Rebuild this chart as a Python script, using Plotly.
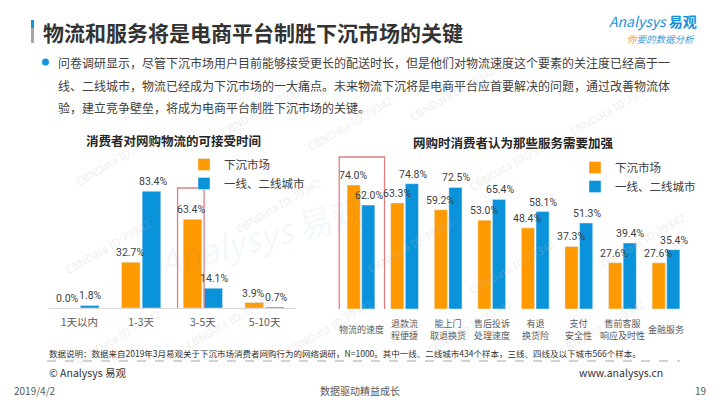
import plotly.graph_objects as go

W, H = 720, 405

# ---------------- data ----------------
left_title = "消费者对网购物流的可接受时间"
left_categories = ["1天以内", "1-3天", "3-5天", "5-10天"]
left_lower_tier = [0.0, 32.7, 63.4, 3.9]
left_top_tier = [1.8, 83.4, 14.1, 0.7]

right_title = "网购时消费者认为那些服务需要加强"
right_categories = ["物流的速度", "退款流<br>程便捷", "能上门<br>取退换货", "售后投诉<br>处理速度",
                    "有退<br>换货险", "支付<br>安全性", "售前客服<br>响应及时性", "金融服务"]
right_lower_tier = [74.0, 63.3, 59.2, 53.0, 48.4, 37.3, 27.6, 27.6]
right_top_tier = [62.0, 74.8, 72.5, 65.4, 58.1, 51.3, 39.4, 35.4]

series_names = ["下沉市场", "一线、二线城市"]

page_title = "物流和服务将是电商平台制胜下沉市场的关键"
bullet_lines = [
    "问卷调研显示，尽管下沉市场用户目前能够接受更长的配送时长，但是他们对物流速度这个要素的关注度已经高于一",
    "线、二线城市，物流已经成为下沉市场的一大痛点。未来物流下沉将是电商平台应首要解决的问题，通过改善物流体",
    "验，建立竞争壁垒，将成为电商平台制胜下沉市场的关键。",
]
footnote = ("数据说明：数据来自2019年3月易观关于下沉市场消费者网购行为的网络调研，N=1000。"
            "其中一线、二线城市434个样本，三线、四线及以下城市566个样本。")

ORANGE = "#FF9900"
BLUE = "#0A93DB"
FONT = "Noto Sans CJK SC"
TXT = "#404040"


def px(x):
    return x / W


def py(y):
    return 1 - y / H


fig = go.Figure()


def bar(x, y, name, color, xa, ya, lg):
    return go.Bar(x=x, y=y, name=name, marker_color=color, xaxis=xa, yaxis=ya, legend=lg,
                  textposition="none", cliponaxis=False)


fig.add_trace(bar(left_categories, left_lower_tier, series_names[0], ORANGE, "x", "y", "legend"))
fig.add_trace(bar(left_categories, left_top_tier, series_names[1], BLUE, "x", "y", "legend"))
fig.add_trace(bar(right_categories, right_lower_tier, series_names[0], ORANGE, "x2", "y2", "legend2"))
fig.add_trace(bar(right_categories, right_top_tier, series_names[1], BLUE, "x2", "y2", "legend2"))

annotations = []
label_font = dict(family="Roboto", size=10.5, color=TXT)

# value labels, drawn on top of all bars (shift = half pair offset of each group bar)
for cats, vals_a, vals_b, xa, ya, shift in [
        (left_categories, left_lower_tier, left_top_tier, "x", "y", 11.5),
        (right_categories, right_lower_tier, right_top_tier, "x2", "y2", 8)]:
    for c, a, b in zip(cats, vals_a, vals_b):
        annotations.append(dict(x=c, y=a, xref=xa, yref=ya, text=f"{a:.1f}%", showarrow=False,
                                xanchor="center", yanchor="bottom", xshift=-shift, yshift=1,
                                font=label_font))
        annotations.append(dict(x=c, y=b, xref=xa, yref=ya, text=f"{b:.1f}%", showarrow=False,
                                xanchor="center", yanchor="bottom", xshift=shift, yshift=1,
                                font=label_font))

# right chart category labels (centred vertically)
for c in right_categories:
    annotations.append(dict(x=c, xref="x2", y=py(329), yref="paper", text=c, showarrow=False,
                            xanchor="center", yanchor="middle", borderpad=0,
                            font=dict(family=FONT, size=9, color="#595959")))

# titles
annotations.append(dict(x=px(41), y=py(32), xref="paper", yref="paper", text="<b>" + page_title + "</b>",
                        showarrow=False, xanchor="left", yanchor="middle",
                        font=dict(family=FONT, size=21, color="#333333")))
for i, line in enumerate(bullet_lines):
    annotations.append(dict(x=px(56), y=py(62 + 23 * i), xref="paper", yref="paper", text=line,
                            showarrow=False, xanchor="left", yanchor="middle",
                            font=dict(family=FONT, size=12, color=TXT)))
annotations.append(dict(x=px(173), y=py(141), xref="paper", yref="paper", text="<b>" + left_title + "</b>",
                        showarrow=False, xanchor="center", yanchor="middle",
                        font=dict(family=FONT, size=12.5, color="#262626")))
annotations.append(dict(x=px(513), y=py(142), xref="paper", yref="paper", text="<b>" + right_title + "</b>",
                        showarrow=False, xanchor="center", yanchor="middle",
                        font=dict(family=FONT, size=12.5, color="#262626")))
# logo
annotations.append(dict(x=px(699), y=py(21), xref="paper", yref="paper",
                        text="<i>Analysys</i> <b>易观</b>", showarrow=False, xanchor="right",
                        yanchor="middle", font=dict(family=FONT, size=14, color="#1890D8")))
annotations.append(dict(x=px(697), y=py(39), xref="paper", yref="paper",
                        text="<i><span style='color:#F39A1E'>你</span>要的数据分析</i>", showarrow=False,
                        xanchor="right", yanchor="middle",
                        font=dict(family=FONT, size=9.5, color="#3A9AD9")))
# footnote / footer
annotations.append(dict(x=px(47), y=py(353), xref="paper", yref="paper", text=footnote,
                        showarrow=False, xanchor="left", yanchor="middle",
                        font=dict(family=FONT, size=8.5, color="#333333")))
annotations.append(dict(x=px(47), y=py(372), xref="paper", yref="paper", text="© Analysys 易观",
                        showarrow=False, xanchor="left", yanchor="middle",
                        font=dict(family=FONT, size=10.5, color="#333333")))
annotations.append(dict(x=px(665), y=py(372), xref="paper", yref="paper", text="www.analysys.cn",
                        showarrow=False, xanchor="right", yanchor="middle",
                        font=dict(family=FONT, size=10.5, color="#333333")))
annotations.append(dict(x=px(12), y=py(390), xref="paper", yref="paper", text="2019/4/2",
                        showarrow=False, xanchor="left", yanchor="middle",
                        font=dict(family=FONT, size=10, color="#595959")))
annotations.append(dict(x=px(360), y=py(390), xref="paper", yref="paper", text="数据驱动精益成长",
                        showarrow=False, xanchor="center", yanchor="middle",
                        font=dict(family=FONT, size=10, color="#595959")))
annotations.append(dict(x=px(708), y=py(390), xref="paper", yref="paper", text="19",
                        showarrow=False, xanchor="right", yanchor="middle",
                        font=dict(family=FONT, size=10, color="#595959")))

# faint watermarks
wm_positions = [(70, 125), (215, 75), (350, 90), (500, 60), (660, 75), (60, 280), (230, 205),
                (410, 245), (560, 130), (690, 240), (180, 355), (330, 360), (560, 300), (650, 360),
                (70, 370), (470, 360)]
for (wx, wy) in wm_positions:
    annotations.append(dict(x=px(wx), y=py(wy), xref="paper", yref="paper", text="CBNData ID:79342",
                            showarrow=False, textangle=-30,
                            font=dict(family="Noto Sans", size=11, color="rgba(190,190,190,0.28)")))
annotations.append(dict(x=px(150), y=py(235), xref="paper", yref="paper", text="<i>Analysys</i> 易观",
                        showarrow=False, textangle=-15,
                        font=dict(family=FONT, size=34, color="rgba(20,140,215,0.06)")))

shapes = [
    # title marker bar
    dict(type="rect", xref="paper", yref="paper", x0=px(31), x1=px(34), y0=py(28), y1=py(20),
         fillcolor="#1296DB", line_width=0),
    dict(type="rect", xref="paper", yref="paper", x0=px(31), x1=px(34), y0=py(43), y1=py(28),
         fillcolor="#A6A6A6", line_width=0),
    # bullet
    dict(type="circle", xref="paper", yref="paper", x0=px(42), x1=px(49), y0=py(65.5), y1=py(58.5),
         fillcolor="#1296DB", line_width=0),
    # highlight boxes
    dict(type="rect", xref="x", yref="y", x0=1.59, x1=2.02, y0=-1.5, y1=85.7,
         line=dict(color="#E07F7F", width=1.3), fillcolor="rgba(0,0,0,0)"),
    dict(type="rect", xref="x2", yref="y2", x0=-0.5, x1=0.54, y0=-1.8, y1=90.7,
         line=dict(color="#E07F7F", width=1.3), fillcolor="rgba(0,0,0,0)"),
    # footer dashed line
    dict(type="line", xref="paper", yref="paper", x0=px(47), x1=px(680), y0=py(361), y1=py(361),
         line=dict(color="#A6A6A6", width=1.2, dash="dash")),
]

fig.update_layout(
    width=W, height=H,
    margin=dict(l=0, r=0, t=0, b=0),
    paper_bgcolor="white", plot_bgcolor="rgba(0,0,0,0)",
    barmode="group", bargap=0.33, bargroupgap=0.1,
    font=dict(family=FONT, color=TXT),
    xaxis=dict(domain=[px(48.5), px(295.5)], anchor="y", showgrid=False, showline=True,
               linecolor="#D9D9D9", linewidth=1, ticks="", zeroline=False, ticklabelstandoff=4,
               tickfont=dict(family=FONT, size=10.5, color="#595959")),
    yaxis=dict(domain=[py(308), py(168)], range=[0, 100], visible=False),
    xaxis2=dict(domain=[px(337), px(690)], anchor="y2", showgrid=False, showline=False,
                ticks="", showticklabels=False, zeroline=False),
    yaxis2=dict(domain=[py(309), py(141.4)], range=[0, 100], visible=False),
    legend=dict(x=px(184), y=py(150), xanchor="left", yanchor="top", bgcolor="rgba(0,0,0,0)",
                font=dict(family=FONT, size=11.5, color=TXT), tracegroupgap=0),
    legend2=dict(x=px(575), y=py(153), xanchor="left", yanchor="top", bgcolor="rgba(0,0,0,0)",
                 font=dict(family=FONT, size=11.5, color=TXT), tracegroupgap=0),
    annotations=annotations,
    shapes=shapes,
)

fig.write_html("out.html", config={"displayModeBar": False},
               post_script="document.body.style.margin='0';document.body.style.overflow='hidden';")
